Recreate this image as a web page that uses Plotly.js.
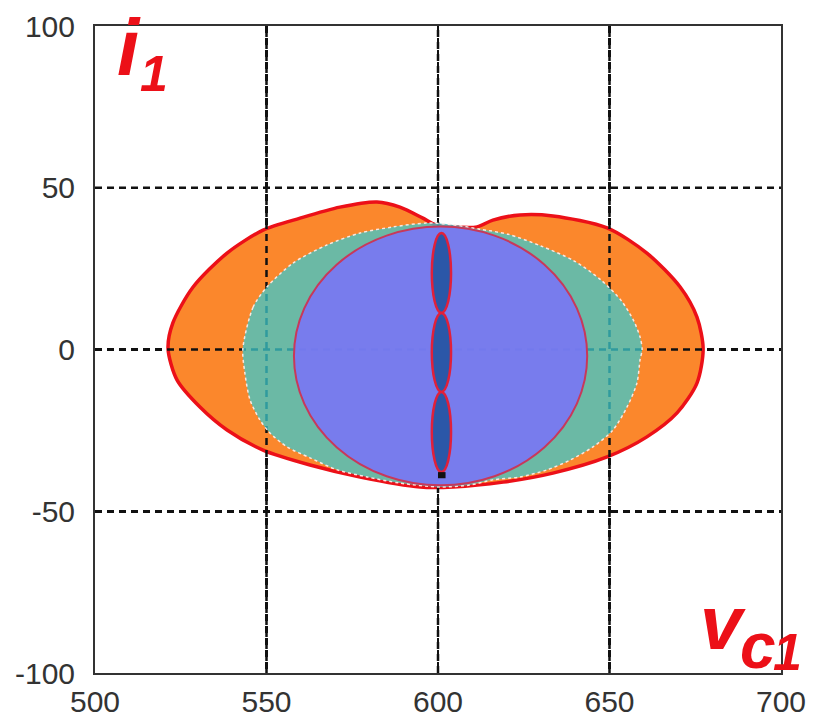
<!DOCTYPE html>
<html>
<head>
<meta charset="utf-8">
<script src="https://cdn.plot.ly/plotly-3.0.1.min.js"></script>
<style>html,body{margin:0;padding:0;background:#fff;}#chart{width:813px;height:720px;}</style>
</head>
<body>
<div id="chart"></div>
<script>
// ---- data ----
const vTicks = [500, 550, 600, 650, 700];
const iTicks = [-100, -50, 0, 50, 100];

// outer (orange) region boundary
const outerV = [521.3, 522.7, 528.6, 538.5, 549.0, 559.8, 571.4, 582.2, 588.9, 595.6, 599.4, 604.4, 611.4, 616.0, 623.9, 633.5, 649.3, 660.9, 670.6, 675.5, 677.3, 675.5, 669.7, 660.9, 649.3, 633.5, 619.0, 604.4, 594.8, 577.3, 562.7, 549.0, 538.5, 530.6, 523.9, 521.3];
const outerI = [0.2, 8.2, 19.3, 29.8, 36.9, 40.6, 44.0, 45.6, 44.0, 40.6, 38.5, 37.9, 37.9, 40.0, 41.6, 41.3, 37.6, 29.8, 19.3, 10.0, 0.2, -10.4, -19.6, -27.0, -33.2, -38.2, -41.0, -42.5, -42.5, -39.4, -35.7, -31.1, -24.9, -17.8, -9.4, 0.2];

// middle (teal) region boundary
const tealV = [543.1, 546.1, 550.1, 557.7, 567.6, 577.3, 586.9, 596.8, 604.0, 612.2, 620.5, 630.0, 639.5, 647.5, 653.5, 657.0, 658.9, 659.5, 658.9, 658.0, 655.1, 651.0, 645.2, 638.5, 631.8, 623.9, 616.0, 609.3, 600.6, 588.9, 579.3, 570.6, 562.7, 556.0, 551.0, 548.1, 545.2, 543.7, 543.1];
const tealI = [0.2, 13.1, 19.3, 26.7, 32.3, 36.0, 37.9, 39.1, 38.6, 37.2, 35.6, 32.0, 27.5, 21.5, 15.0, 9.0, 3.9, 0.0, -3.2, -10.4, -17.8, -24.9, -30.1, -34.2, -37.2, -39.4, -40.3, -41.9, -42.5, -41.3, -39.4, -37.2, -33.5, -30.1, -25.8, -21.8, -15.6, -7.3, 0.2];

// inner (blue) ellipse bounding box
const blueV = [558.0, 643.5];
const blueI = [-42.0, 38.0];

// three small (dark blue) lobes
const lobeV = [598.2, 603.8];
const lobeTop = [36.0, 11.3, -13.1];
const lobeBottom = [11.3, -13.1, -37.9];

// small black end mark
const endV = [600.0, 602.2];
const endI = [-39.8, -37.9];

// ---- figure ----
const red = '#ec1018';
const traces = [];
traces.push({
  type: 'scatter', mode: 'lines', x: outerV, y: outerI, fill: 'toself',
  fillcolor: 'rgb(251,135,44)', line: {color: red, width: 3.5, shape: 'spline', smoothing: 0.8}, hoverinfo: 'skip'
});
// grid lines repeated above the orange fill (they show through the shaded regions)
vTicks.slice(1, -1).forEach(t => traces.push({
  type: 'scatter', mode: 'lines', x: [t, t], y: [iTicks[0], iTicks[iTicks.length - 1]],
  line: {color: '#111', width: 2.5, dash: '7px,5px'}, hoverinfo: 'skip'
}));
iTicks.slice(1, -1).forEach(t => traces.push({
  type: 'scatter', mode: 'lines', x: [vTicks[0], vTicks[vTicks.length - 1]], y: [t, t],
  line: {color: '#111', width: 2.5, dash: '7px,5px'}, hoverinfo: 'skip'
}));
traces.push({
  type: 'scatter', mode: 'lines', x: tealV, y: tealI, fill: 'toself',
  fillcolor: 'rgba(59,202,206,0.75)', line: {color: 'rgba(255,235,230,0.95)', width: 1.5, dash: 'dot', shape: 'spline', smoothing: 0.8}, hoverinfo: 'skip'
});

const shapes = [];
shapes.push({
  type: 'circle', xref: 'x', yref: 'y', layer: 'above',
  x0: blueV[0], x1: blueV[1], y0: blueI[0], y1: blueI[1],
  fillcolor: 'rgba(121,118,243,0.92)', line: {color: '#c8385a', width: 2}
});
lobeTop.forEach((t, k) => shapes.push({
  type: 'circle', xref: 'x', yref: 'y', layer: 'above',
  x0: lobeV[0], x1: lobeV[1], y0: lobeBottom[k], y1: t,
  fillcolor: '#2b57a8', line: {color: '#e0203a', width: 2.5}
}));
shapes.push({
  type: 'rect', xref: 'x', yref: 'y', layer: 'above',
  x0: endV[0], x1: endV[1], y0: endI[0], y1: endI[1],
  fillcolor: '#111', line: {width: 0}
});

const lblFont = 'Liberation Sans, Arial, sans-serif';
const annFont = (s) => ({family: lblFont, size: s, color: red});
const annotations = [
  {xref: 'paper', yref: 'paper', x: 0.029, y: 0.966, xanchor: 'left', yanchor: 'middle', showarrow: false, text: '<b><i>i</i></b>', font: annFont(80)},
  {xref: 'paper', yref: 'paper', x: 0.062, y: 0.926, xanchor: 'left', yanchor: 'middle', showarrow: false, text: '<b><i>1</i></b>', font: annFont(50)},
  {xref: 'paper', yref: 'paper', x: 0.879, y: 0.0773, xanchor: 'left', yanchor: 'middle', showarrow: false, text: '<b><i>v</i></b>', font: annFont(76)},
  {xref: 'paper', yref: 'paper', x: 0.938, y: 0.0417, xanchor: 'left', yanchor: 'middle', showarrow: false, text: '<b><i>c</i></b>', font: annFont(64)},
  {xref: 'paper', yref: 'paper', x: 0.986, y: 0.0325, xanchor: 'left', yanchor: 'middle', showarrow: false, text: '<b><i>1</i></b>', font: annFont(52)}
];

const axisCommon = {
  showline: true, mirror: true, linecolor: '#333', linewidth: 2,
  showgrid: true, gridcolor: '#111', gridwidth: 2.5, griddash: '7px,5px',
  zeroline: false, ticks: '', ticklen: 0,
  tickfont: {family: lblFont, size: 30, color: '#333'}, fixedrange: true
};

const layout = {
  width: 813, height: 720,
  margin: {l: 95, r: 32, t: 26, b: 47},
  paper_bgcolor: '#fff', plot_bgcolor: '#fff',
  showlegend: false,
  xaxis: Object.assign({}, axisCommon, {range: [vTicks[0], vTicks[vTicks.length - 1]], tickvals: vTicks, ticktext: vTicks.map(String), ticklabelstandoff: 1}),
  yaxis: Object.assign({}, axisCommon, {range: [iTicks[0], iTicks[iTicks.length - 1]], tickvals: iTicks, ticktext: iTicks.map(String), ticklabelstandoff: 12}),
  shapes: shapes,
  annotations: annotations
};

Plotly.newPlot('chart', traces, layout, {displayModeBar: false, staticPlot: true});
</script>
</body>
</html>
